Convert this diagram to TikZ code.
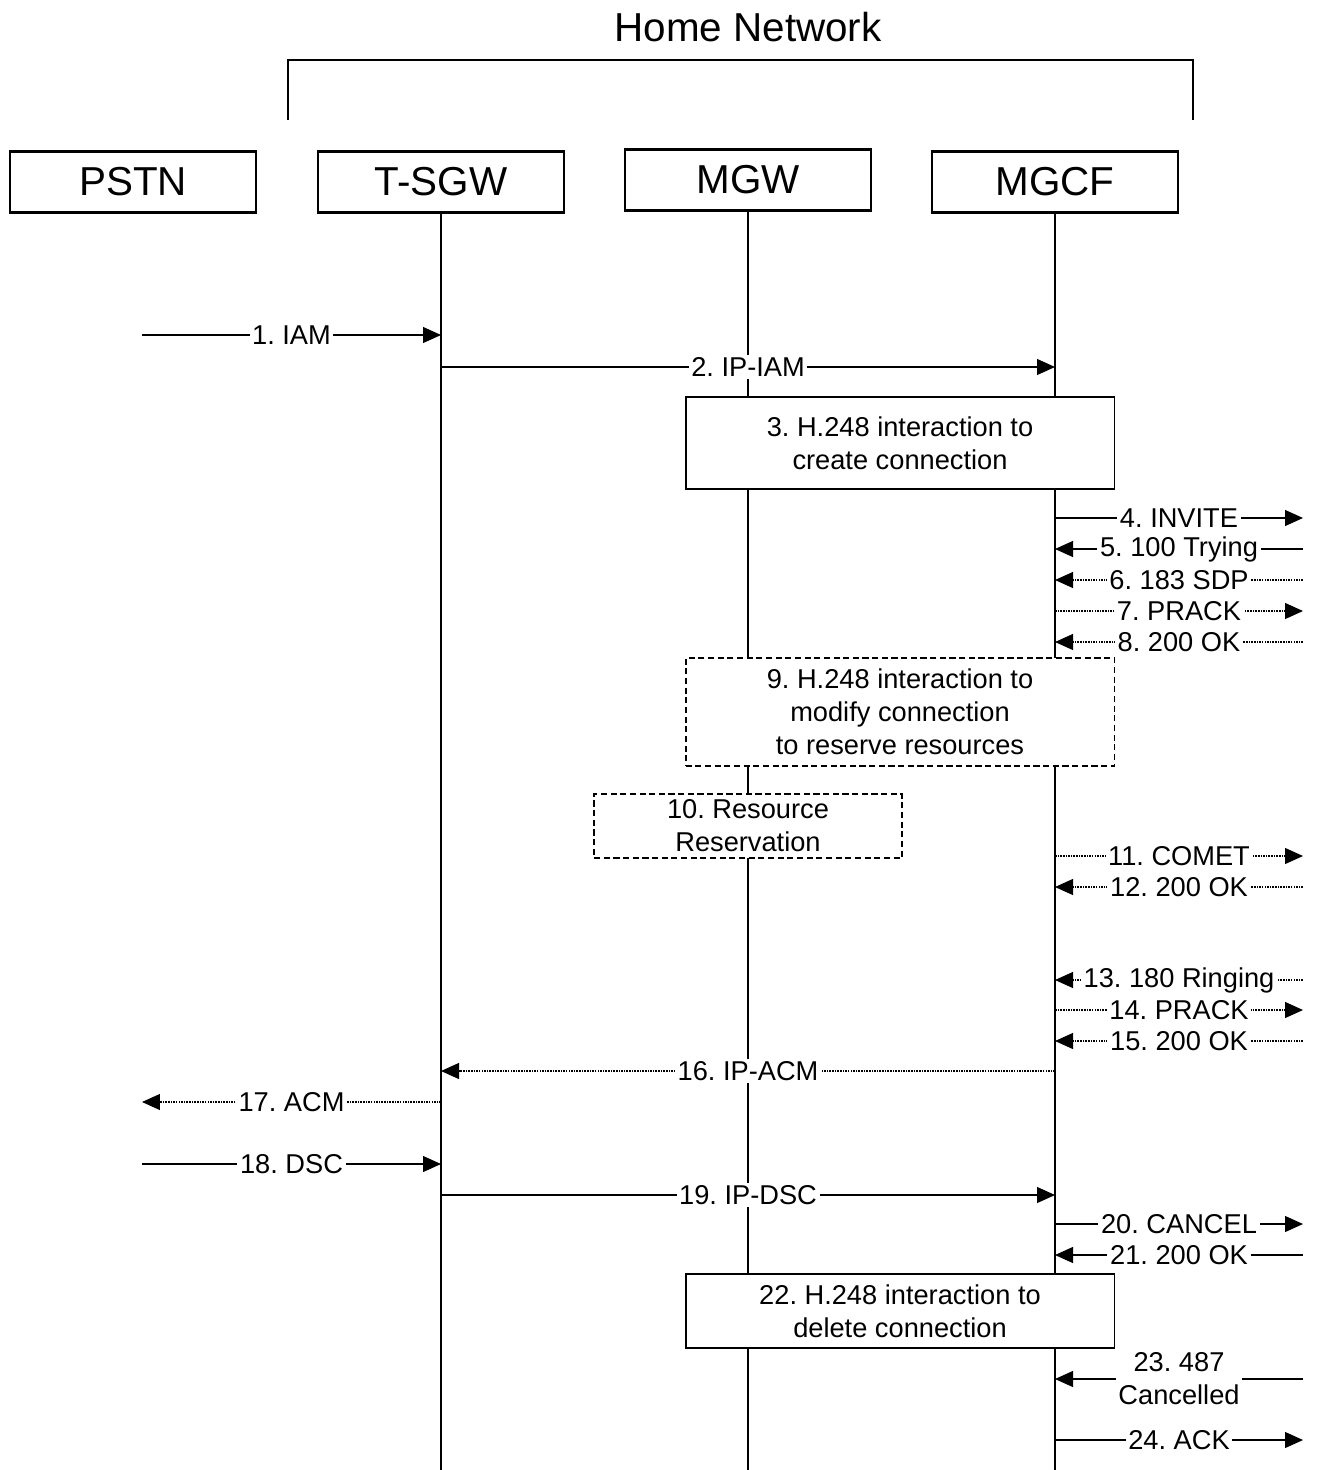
\documentclass[tikz,border=0pt]{standalone}
\usepackage{fontspec}
\setmainfont{Liberation Sans}
\usetikzlibrary{arrows.meta,positioning}
\frenchspacing

\tikzset{
    entity/.style={draw, line width=1.2pt, minimum width=4.92cm, minimum height=1.22cm, font=\fontsize{23}{27}\selectfont},
    lifeline/.style={line width=1.1pt},
    msg/.style={->, line width=0.6pt},
    dotmsg/.style={->, line width=0.6pt, dash pattern=on 0.9pt off 0.6pt},
    lbl/.style={fill=white, inner sep=1.5pt, align=center, font=\fontsize{15.5}{18.7}\selectfont},
    action/.style={draw, fill=white, line width=1.1pt, align=center, font=\fontsize{15.5}{18.7}\selectfont},
}

\begin{document}
\begin{tikzpicture}[x=0.02cm, y=-0.02cm, >={Triangle[length=0.36cm,width=0.32cm]}]
    \useasboundingbox (0,0) rectangle (1317,1470);

    % home network bracket
    \node[font=\fontsize{23}{27}\selectfont] (home) at (748,27) {Home Network};
    \draw[line width=1.4pt] (288,120) -- (288,60) -- (1193,60) -- (1193,120);

    % entities
    \node[entity] (pstn) at (133,182) {PSTN};
    \node[entity] (tsgw) at (441,182) {T-SGW};
    \node[entity] (mgw) at (748,180) {MGW};
    \node[entity] (mgcf) at (1055,182) {MGCF};

    % lifelines
    \coordinate (bottom) at (0,1470);
    \draw[lifeline] (tsgw.south) -- (tsgw |- bottom);
    \draw[lifeline] (mgw.south) -- (mgw |- bottom);
    \draw[lifeline] (mgcf.south) -- (mgcf |- bottom);

    % messages
    \coordinate (m1) at (142,335);
    \draw[msg] (m1) -- node[lbl] {1. IAM} (m1 -| tsgw);
    \coordinate (m2) at (0,367);
    \draw[msg] (m2 -| tsgw) -- node[lbl] {2. IP-IAM} (m2 -| mgcf);

    \node[action, minimum width=8.58cm, minimum height=1.84cm] (h3) at (900,443) {3. H.248 interaction to\\create connection};

    \coordinate (m4) at (1303,518);
    \draw[msg] (m4 -| mgcf) -- node[lbl] {4. INVITE} (m4);
    \coordinate (m5) at (1303,549);
    \draw[msg] (m5) -- node[lbl] {5. 100 Trying} (m5 -| mgcf);
    \coordinate (m6) at (1303,580);
    \draw[dotmsg] (m6) -- node[lbl] {6. 183 SDP} (m6 -| mgcf);
    \coordinate (m7) at (1303,611);
    \draw[dotmsg] (m7 -| mgcf) -- node[lbl] {7. PRACK} (m7);
    \coordinate (m8) at (1303,642);
    \draw[dotmsg] (m8) -- node[lbl] {8. 200 OK} (m8 -| mgcf);

    \node[action, dash pattern=on 3.5pt off 2pt, minimum width=8.58cm, minimum height=2.16cm] (h9) at (900,712) {9. H.248 interaction to\\modify connection\\to reserve resources};
    \node[action, dash pattern=on 3.5pt off 2pt, minimum width=6.16cm, minimum height=1.22cm] (rr) at (748,826) {10. Resource\\Reservation};

    \coordinate (m11) at (1303,856);
    \draw[dotmsg] (m11 -| mgcf) -- node[lbl] {11. COMET} (m11);
    \coordinate (m12) at (1303,887);
    \draw[dotmsg] (m12) -- node[lbl] {12. 200 OK} (m12 -| mgcf);
    \coordinate (m13) at (1303,980);
    \draw[dotmsg] (m13) -- node[lbl] {13. 180 Ringing} (m13 -| mgcf);
    \coordinate (m14) at (1303,1010);
    \draw[dotmsg] (m14 -| mgcf) -- node[lbl] {14. PRACK} (m14);
    \coordinate (m15) at (1303,1041);
    \draw[dotmsg] (m15) -- node[lbl] {15. 200 OK} (m15 -| mgcf);
    \coordinate (m16) at (0,1071);
    \draw[dotmsg] (m16 -| mgcf) -- node[lbl] {16. IP-ACM} (m16 -| tsgw);
    \coordinate (m17) at (142,1102);
    \draw[dotmsg] (m17 -| tsgw) -- node[lbl] {17. ACM} (m17);
    \coordinate (m18) at (142,1164);
    \draw[msg] (m18) -- node[lbl] {18. DSC} (m18 -| tsgw);
    \coordinate (m19) at (0,1195);
    \draw[msg] (m19 -| tsgw) -- node[lbl] {19. IP-DSC} (m19 -| mgcf);
    \coordinate (m20) at (1303,1224);
    \draw[msg] (m20 -| mgcf) -- node[lbl] {20. CANCEL} (m20);
    \coordinate (m21) at (1303,1255);
    \draw[msg] (m21) -- node[lbl] {21. 200 OK} (m21 -| mgcf);

    \node[action, minimum width=8.58cm, minimum height=1.48cm] (h22) at (900,1311) {22. H.248 interaction to\\delete connection};

    \coordinate (m23) at (1303,1379);
    \draw[msg] (m23) -- node[lbl] {23. 487\\Cancelled} (m23 -| mgcf);
    \coordinate (m24) at (1303,1440);
    \draw[msg] (m24 -| mgcf) -- node[lbl] {24. ACK} (m24);
\end{tikzpicture}
\end{document}
